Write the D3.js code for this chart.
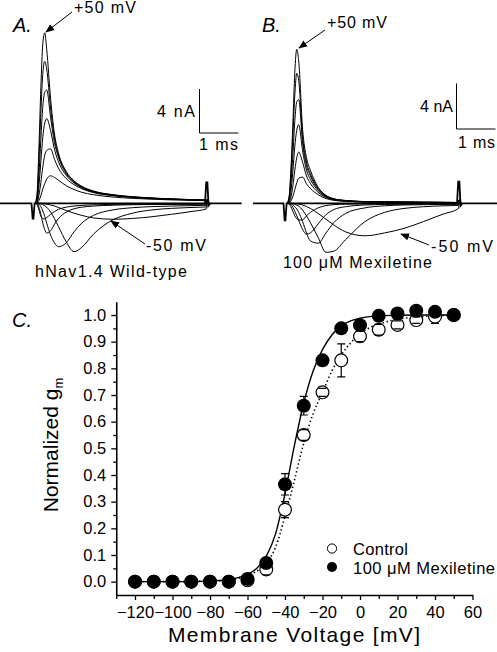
<!DOCTYPE html>
<html><head><meta charset="utf-8">
<script src="https://cdn.jsdelivr.net/npm/d3@7"></script>
<style>
body{margin:0;background:#fff}
svg{display:block}
text{font-family:"Liberation Sans",Arial,Helvetica,sans-serif;fill:#000}
</style></head>
<body><svg id="chart" width="497" height="652"></svg>
<script>
// ---------- Panel A/B data (current traces, ms / nA) ----------
const traceTime = [0,0.05,0.1,0.15,0.2,0.25,0.3,0.4,0.5,0.6,0.8,1.0,1.2,1.5,2.0,2.5,3.0,3.5,4.0,4.4];
const stepVoltages = [50,40,30,20,10,0,-10,-20,-30,-40,-50];
const wtCurrents = [
  [0,0.8,5,10.5,14.5,15.5,14,9.5,6.3,4.6,2.9,2.05,1.55,1.12,0.78,0.6,0.48,0.4,0.34,0.3],
  [0,0.5,3.8,8.2,11.8,12.9,12.2,8.6,5.9,4.4,2.8,2.0,1.5,1.08,0.76,0.58,0.47,0.39,0.33,0.29],
  [0,0.3,2.5,5.8,8.8,10.1,10.3,7.8,5.5,4.2,2.7,1.92,1.45,1.05,0.74,0.57,0.46,0.38,0.32,0.28],
  [0,0.15,1.5,3.8,6.0,7.3,7.7,6.6,4.9,3.8,2.55,1.85,1.4,1.02,0.72,0.55,0.45,0.37,0.31,0.27],
  [0,0.08,0.7,1.9,3.3,4.4,4.8,4.95,4.0,3.2,2.25,1.7,1.32,0.97,0.69,0.53,0.43,0.36,0.3,0.26],
  [0,0.02,0.25,0.7,1.3,1.8,2.2,2.5,2.35,2.1,1.6,1.25,1.0,0.78,0.57,0.45,0.37,0.31,0.27,0.24],
  [0,-0.1,-0.6,-1.15,-1.38,-1.42,-1.3,-1.0,-0.75,-0.55,-0.35,-0.25,-0.19,-0.14,-0.1,-0.08,-0.07,-0.06,-0.05,-0.05],
  [0,-0.02,-0.35,-1.0,-1.8,-2.4,-2.7,-2.5,-1.9,-1.4,-0.8,-0.5,-0.35,-0.25,-0.17,-0.13,-0.11,-0.1,-0.09,-0.08],
  [0,0,-0.08,-0.3,-0.7,-1.2,-1.8,-2.9,-3.6,-3.95,-3.6,-2.6,-1.8,-1.1,-0.6,-0.4,-0.3,-0.25,-0.21,-0.18],
  [0,0,0,-0.05,-0.12,-0.22,-0.35,-0.8,-1.4,-2.1,-3.5,-4.4,-4.0,-2.8,-1.5,-0.9,-0.6,-0.46,-0.38,-0.33],
  [0,0,0,0,-0.02,-0.05,-0.08,-0.15,-0.25,-0.38,-0.65,-0.9,-1.1,-1.33,-1.45,-1.38,-1.22,-1.0,-0.75,-0.5]
];
const mexCurrents = [
  [0,0.5,3,7,11.5,13.5,12.5,6.5,4.0,2.9,1.4,0.7,0.4,0.25,0.15,0.12,0.1,0.09,0.08,0.07],
  [0,0.4,2.4,5.8,9.5,11.4,10.8,5.8,3.6,2.6,1.3,0.66,0.38,0.24,0.15,0.12,0.1,0.09,0.08,0.07],
  [0,0.3,1.7,4.2,7.2,8.9,9.1,5.3,3.3,2.4,1.2,0.62,0.36,0.23,0.14,0.11,0.1,0.09,0.08,0.07],
  [0,0.15,1.0,2.8,5.0,6.4,6.9,4.6,2.9,2.1,1.1,0.58,0.34,0.22,0.14,0.11,0.1,0.09,0.08,0.07],
  [0,0.08,0.5,1.5,2.9,4.0,4.5,3.6,2.4,1.75,0.95,0.52,0.31,0.2,0.13,0.1,0.09,0.08,0.07,0.06],
  [0,0.02,0.2,0.6,1.2,1.8,2.2,2.3,1.7,1.3,0.75,0.42,0.26,0.17,0.11,0.09,0.08,0.07,0.06,0.05],
  [0,-0.05,-0.3,-0.7,-1.1,-1.35,-1.48,-1.45,-1.1,-0.8,-0.4,-0.2,-0.12,-0.08,-0.05,-0.04,-0.03,-0.03,-0.02,-0.02],
  [0,0,-0.1,-0.35,-0.7,-1.1,-1.5,-2.3,-2.7,-2.6,-1.8,-1.0,-0.55,-0.3,-0.15,-0.1,-0.08,-0.07,-0.06,-0.05],
  [0,0,-0.03,-0.12,-0.3,-0.5,-0.8,-1.6,-2.6,-3.3,-3.5,-2.6,-1.7,-0.9,-0.4,-0.22,-0.15,-0.12,-0.1,-0.08],
  [0,0,0,-0.03,-0.08,-0.15,-0.25,-0.6,-1.1,-1.7,-3.0,-4.3,-4.2,-3.2,-1.6,-0.8,-0.45,-0.3,-0.22,-0.18],
  [0,0,0,0,-0.02,-0.04,-0.07,-0.15,-0.28,-0.45,-0.9,-1.4,-1.9,-2.5,-2.85,-2.6,-2.2,-1.6,-0.95,-0.45]
];
// baseline with capacitive artefacts (onset and offset)
const baselineA = [[-0.9,0],[-0.09,0],[-0.06,-1.4],[-0.04,-1.4],[-0.01,0],[4.36,0],[4.39,1.9],[4.42,1.9],[4.45,-0.2],[4.5,0],[5.3,0]];
const baselineB = [[-0.87,0],[-0.09,0],[-0.06,-1.5],[-0.04,-1.5],[-0.01,0],[4.36,0],[4.39,1.9],[4.42,1.9],[4.45,-0.2],[4.5,0],[5.4,0]];

// ---------- Panel C data ----------
const voltages = [-120,-110,-100,-90,-80,-70,-60,-50,-40,-30,-20,-10,0,10,20,30,40,50];
const controlG   = [0,0,0,0,0,0,0.005,0.046,0.27,0.55,0.71,0.83,0.92,0.945,0.963,0.981,0.994,1.0];
const controlErr = [0,0,0,0,0,0,0.005,0.02,0.03,0.02,0.015,0.062,0.02,0.02,0.015,0.012,0.025,0];
const mexG   = [0,0,0,0,0,0,0.01,0.07,0.365,0.66,0.83,0.95,0.962,0.997,1.006,1.016,1.012,1.0];
const mexErr = [0,0,0,0,0,0,0.005,0.01,0.04,0.035,0.01,0.01,0.015,0.01,0.01,0.01,0.015,0];
const fitV       = [-120,-100,-80,-70,-65,-60,-55,-50,-45,-40,-35,-30,-25,-20,-15,-10,-5,0,5,10,20,30,40,50];
const mexFit     = [0,0,0.002,0.008,0.015,0.028,0.05,0.095,0.18,0.33,0.51,0.67,0.79,0.87,0.925,0.96,0.978,0.988,0.994,0.997,0.999,1,1,1];
const controlFit = [0,0,0.002,0.006,0.012,0.022,0.04,0.07,0.13,0.245,0.38,0.52,0.63,0.71,0.79,0.85,0.895,0.93,0.952,0.966,0.984,0.993,0.997,0.999];
const xMajor = [-120,-100,-80,-60,-40,-20,0,20,40,60];
const xMinor = [-130,-110,-90,-70,-50,-30,-10,10,30,50];
const yMajor = [0,0.1,0.2,0.3,0.4,0.5,0.6,0.7,0.8,0.9,1.0];
const yMinor = [0.05,0.15,0.25,0.35,0.45,0.55,0.65,0.75,0.85,0.95];

const svg = d3.select("#chart");

// ---------- Trace panels ----------
function tracePanel(opts){
  const g = svg.append("g");
  const x = d3.scaleLinear().domain([0,1]).range([opts.x0, opts.x0 + 39]);
  const y = d3.scaleLinear().domain([0,1]).range([opts.y0, opts.y0 - opts.pxPerNA]);
  const line = d3.line().x(d=>x(d[0])).y(d=>y(d[1])).curve(d3.curveMonotoneX);
  const lin = d3.line().x(d=>x(d[0])).y(d=>y(d[1]));
  g.append("path").attr("d", lin(opts.baseline)).attr("fill","none").attr("stroke","#000").attr("stroke-width",1.8);
  opts.currents.forEach(c=>{
    const pts = traceTime.map((t,i)=>[t,c[i]]).concat([[4.42,0.3],[4.46,0]]);
    g.append("path").attr("d", line(pts)).attr("fill","none").attr("stroke","#000").attr("stroke-width",1);
  });
  const bx = opts.barX, by = opts.barY;
  const barH = y(0) - y(4), barW = x(1) - x(0);
  g.append("path").attr("d",`M${bx},${by-barH}V${by}H${bx+barW}`).attr("fill","none").attr("stroke","#000").attr("stroke-width",1);
  return g;
}
tracePanel({x0:35, y0:203.3, pxPerNA:11, currents:wtCurrents, baseline:baselineA, barX:199.5, barY:133});
tracePanel({x0:287, y0:203.3, pxPerNA:11.4, currents:mexCurrents, baseline:baselineB, barX:456.5, barY:129});

svg.append("defs").append("marker").attr("id","ah").attr("viewBox","0 0 10 10").attr("refX",9).attr("refY",5)
  .attr("markerWidth",9).attr("markerHeight",9).attr("markerUnits","userSpaceOnUse").attr("orient","auto")
  .append("path").attr("d","M0,1L10,5L0,9z").attr("fill","#000");
function arrow(x1,y1,x2,y2){
  svg.append("line").attr("x1",x1).attr("y1",y1).attr("x2",x2).attr("y2",y2)
    .attr("stroke","#000").attr("stroke-width",1).attr("marker-end","url(#ah)");
}
function label(txt,x,y,size,len,anchor,italic){
  const t = svg.append("text").attr("x",x).attr("y",y).attr("font-size",size).text(txt);
  if(len) t.attr("textLength",len).attr("lengthAdjust","spacing");
  if(anchor) t.attr("text-anchor",anchor);
  if(italic) t.attr("font-style","italic");
  return t;
}
// Panel A text
label("A.",13,32,20,null,null,true);
label("+50 mV",74,13,16,62);
arrow(72,12,46,32);
label("4 nA",157,117,16,38);
label("1 ms",199,150,16,39);
label("-50 mV",146,251,16,60);
arrow(145,244,111,221);
label("hNav1.4 Wild-type",35,277,16,152);
// Panel B text
label("B.",262,32,20,null,null,true);
label("+50 mV",327,28,16,60);
arrow(325,30,299,48);
label("4 nA",420,112,16,33);
label("1 ms",458,148,16,37);
label("-50 mV",431,252,16,62);
arrow(429,245,401,234);
label("100 \u03bcM Mexiletine",283,268,16,149);

// ---------- Panel C ----------
const xC = d3.scaleLinear().domain([-130,60]).range([116.25,472.5]);
const yC = d3.scaleLinear().domain([-0.05,1.05]).range([595,301.7]);
const gC = svg.append("g");

gC.append("g").attr("transform",`translate(0,${yC(-0.05)})`)
  .call(d3.axisBottom(xC).tickValues(xMajor).tickSize(5).tickSizeOuter(0).tickPadding(6).tickFormat(d3.format("d")));
gC.append("g").attr("transform",`translate(0,${yC(-0.05)})`)
  .call(d3.axisBottom(xC).tickValues(xMinor).tickSize(4).tickSizeOuter(0).tickFormat(""))
  .select(".domain").remove();
gC.append("g").attr("transform",`translate(${xC(-130)},0)`)
  .call(d3.axisLeft(yC).tickValues(yMajor).tickSize(5).tickSizeOuter(0).tickPadding(5).tickFormat(d3.format(".1f")));
gC.append("g").attr("transform",`translate(${xC(-130)},0)`)
  .call(d3.axisLeft(yC).tickValues(yMinor).tickSize(3).tickSizeOuter(0).tickFormat(""))
  .select(".domain").remove();
gC.selectAll(".domain").attr("stroke-width",1.6);
gC.selectAll(".tick line").attr("stroke-width",1.3);
gC.selectAll(".tick text").attr("font-size",16.5).attr("font-family","Liberation Sans, Arial, sans-serif").attr("fill","#000");

const fitLine = d3.line().x(d=>xC(d[0])).y(d=>yC(d[1])).curve(d3.curveMonotoneX);
gC.append("path").attr("d",fitLine(fitV.map((v,i)=>[v,controlFit[i]])))
  .attr("fill","none").attr("stroke","#000").attr("stroke-width",1.6).attr("stroke-dasharray","1.4 2.6");
gC.append("path").attr("d",fitLine(fitV.map((v,i)=>[v,mexFit[i]])))
  .attr("fill","none").attr("stroke","#000").attr("stroke-width",1.4);

const R = 7;
function errBars(vals, errs, r){
  voltages.forEach((v,i)=>{
    const e = errs[i]; if(!e) return;
    const cx = xC(v), cy = yC(vals[i]);
    const top = yC(vals[i]+e), bot = yC(vals[i]-e);
    let d = "";
    if(cy-top > r) d += `M${cx},${cy-r}V${top}`;
    if(bot-cy > r) d += `M${cx},${cy+r}V${bot}`;
    d += `M${cx-4},${top}H${cx+4}M${cx-4},${bot}H${cx+4}`;
    gC.append("path").attr("d",d).attr("fill","none").attr("stroke","#000").attr("stroke-width",1.2);
  });
}
gC.selectAll(".ctl").data(voltages).enter().append("circle")
  .attr("cx",v=>xC(v)).attr("cy",(v,i)=>yC(controlG[i])).attr("r",R-0.6)
  .attr("fill","#fff").attr("stroke","#000").attr("stroke-width",1.2);
errBars(controlG, controlErr, R-0.6);
errBars(mexG, mexErr, R);
gC.selectAll(".mex").data(voltages).enter().append("circle")
  .attr("cx",v=>xC(v)).attr("cy",(v,i)=>yC(mexG[i])).attr("r",R).attr("fill","#000");

// legend
gC.append("circle").attr("cx",332).attr("cy",548.5).attr("r",4.6).attr("fill","#fff").attr("stroke","#000").attr("stroke-width",1);
label("Control",353,555,16.5,55);
gC.append("circle").attr("cx",332).attr("cy",567).attr("r",5).attr("fill","#000");
label("100 \u03bcM Mexiletine",353,573.5,16.5,142);

// titles
label("C.",12,327,20,null,null,true);
label("Membrane Voltage [mV]",294,642,21,252,"middle");
const yt = svg.append("text").attr("transform","translate(58,445) rotate(-90)").attr("text-anchor","middle").attr("font-size",21);
yt.append("tspan").text("Normalized g");
yt.append("tspan").attr("font-size",13).attr("dy",5).text("m");
</script></body></html>
